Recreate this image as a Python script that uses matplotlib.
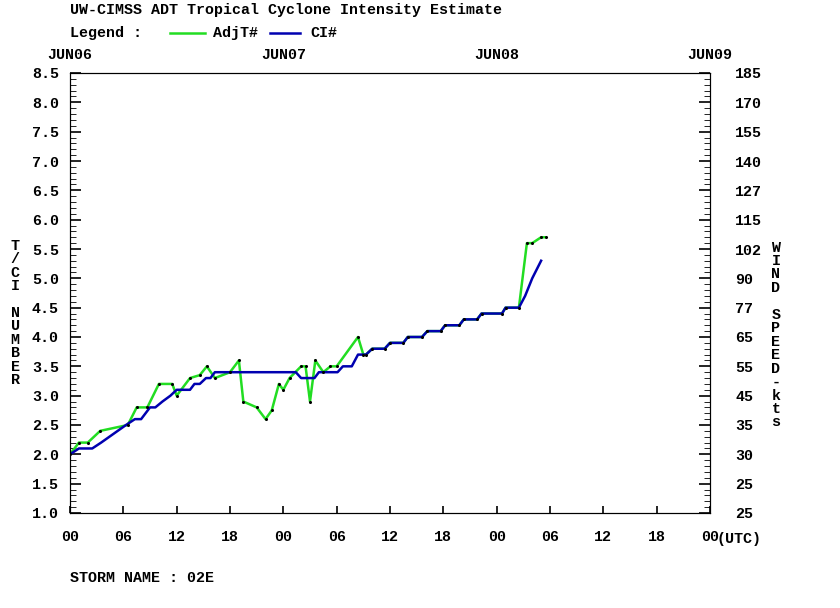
import numpy as np
import matplotlib
matplotlib.use("Agg")
import matplotlib.pyplot as plt

# hours since JUN06 00UTC
ci_hours = [0, 1, 2.5, 3.5, 6.3, 7.3, 8, 9, 9.6, 10.4, 11.3, 12, 13.5, 14, 14.6, 15.3, 15.8, 16.3,
            25.4, 26, 27.5, 28, 30.1, 30.7, 31.7, 32.4, 33.3, 34, 35.4, 36, 37.5, 38, 39.6, 40.2,
            41.7, 42.2, 43.8, 44.3, 45.8, 46.3, 48.6, 49, 50.5, 51.2, 52, 53]
ci_vals = [2.0, 2.1, 2.1, 2.2, 2.5, 2.6, 2.6, 2.8, 2.8, 2.9, 3.0, 3.1, 3.1, 3.2, 3.2, 3.3, 3.3, 3.4,
           3.4, 3.3, 3.3, 3.4, 3.4, 3.5, 3.5, 3.7, 3.7, 3.8, 3.8, 3.9, 3.9, 4.0, 4.0, 4.1,
           4.1, 4.2, 4.2, 4.3, 4.3, 4.4, 4.4, 4.5, 4.5, 4.7, 5.0, 5.3]

adj_hours = [0, 1, 2, 3.4, 6.5, 7.5, 8.7, 10, 11.5, 12, 13.5, 14.6, 15.4, 16.3, 18, 19, 19.5, 21,
             22, 22.7, 23.5, 24, 24.7, 26, 26.5, 27, 27.6, 28.5, 29.3, 30, 32.4, 33,
             33.3, 34, 35.4, 36, 37.5, 38, 39.6, 40.2, 41.7, 42.2, 43.8, 44.3, 45.8, 46.3, 48.6,
             49, 50.5, 51.4, 52, 53, 53.5]
adj_vals = [2.0, 2.2, 2.2, 2.4, 2.5, 2.8, 2.8, 3.2, 3.2, 3.0, 3.3, 3.35, 3.5, 3.3, 3.4, 3.6, 2.9, 2.8,
            2.6, 2.75, 3.2, 3.1, 3.3, 3.5, 3.5, 2.9, 3.6, 3.4, 3.5, 3.5, 4.0, 3.7,
            3.7, 3.8, 3.8, 3.9, 3.9, 4.0, 4.0, 4.1, 4.1, 4.2, 4.2, 4.3, 4.3, 4.4, 4.4,
            4.5, 4.5, 5.6, 5.6, 5.7, 5.7]

y_ticks = np.linspace(1.0, 8.5, 16)
wind_labels = ["25", "25", "30", "35", "45", "55", "65", "77", "90", "102", "115", "127", "140", "155", "170", "185"]
x_labels = ["00", "06", "12", "18"] * 3 + ["00"]
day_labels = ["JUN06", "JUN07", "JUN08", "JUN09"]

plt.rcParams['font.family'] = ['Liberation Mono', 'DejaVu Sans Mono']
plt.rcParams['font.weight'] = 'bold'
plt.rcParams['font.size'] = 10.8

fig = plt.figure(figsize=(8.4, 6.08), dpi=100)
ax = fig.add_axes([70/840, 1 - 513/608, 640/840, 440/608])
ax.plot(ci_hours, ci_vals, color='#0000b0', lw=1.8, zorder=3)
ax.plot(adj_hours, adj_vals, color='#22dd22', lw=1.8, zorder=2)
ax.plot(adj_hours, adj_vals, ls='none', marker='o', ms=1.2, color='black', zorder=4)

ax.set_xlim(0, 72)
ax.set_ylim(1.0, 8.5)
ax.set_yticks(y_ticks)
ax.set_yticklabels([f"{v:.1f}" for v in y_ticks])
ax.set_yticks(np.linspace(1.0, 8.5, 76), minor=True)
ax.set_xticks(np.arange(0, 73, 6))
ax.set_xticklabels(x_labels)
ax.tick_params(which='both', direction='in', top=False)
ax.tick_params(axis='y', which='major', length=8, width=1.2, pad=8)
ax.tick_params(axis='y', which='minor', length=4)
ax.tick_params(axis='x', length=5, width=1.2, pad=12)
ax.annotate("(UTC)", xy=(72, 1.0), xycoords='data', xytext=(5, -19), textcoords='offset points',
            ha='left', va='center', annotation_clip=False)

ax2 = ax.twinx()
ax2.set_ylim(1.0, 8.5)
ax2.set_yticks(y_ticks)
ax2.set_yticklabels(wind_labels)
ax2.set_yticks(np.linspace(1.0, 8.5, 76), minor=True)
ax2.tick_params(which='both', direction='in')
ax2.tick_params(which='major', length=8, width=1.2, pad=18)
ax2.tick_params(which='minor', length=4)

for i, d in enumerate(day_labels):
    ax.text(i * 24, 8.68, d, ha='center', va='bottom')

fig.text(70/840, 1 - 10/608, "UW-CIMSS ADT Tropical Cyclone Intensity Estimate", va='center')
fig.text(70/840, 1 - 33/608, "Legend :", va='center')
fig.lines.append(plt.Line2D([170/840, 205/840], [1 - 33/608] * 2, color='#22dd22', lw=1.8, transform=fig.transFigure))
fig.text(213/840, 1 - 33/608, "AdjT#", va='center')
fig.lines.append(plt.Line2D([270/840, 300/840], [1 - 33/608] * 2, color='#0000b0', lw=1.8, transform=fig.transFigure))
fig.text(310/840, 1 - 33/608, "CI#", va='center')

fig.text(15/840, 1 - 313/608, "\n".join("T/CI NUMBER"), ha='center', va='center', linespacing=0.95)
fig.text(776/840, 1 - 335/608, "\n".join("WIND SPEED-kts"), ha='center', va='center', linespacing=0.95)
fig.text(70/840, 1 - 578/608, "STORM NAME : 02E", va='center')

fig.savefig("out.png", dpi=100)
